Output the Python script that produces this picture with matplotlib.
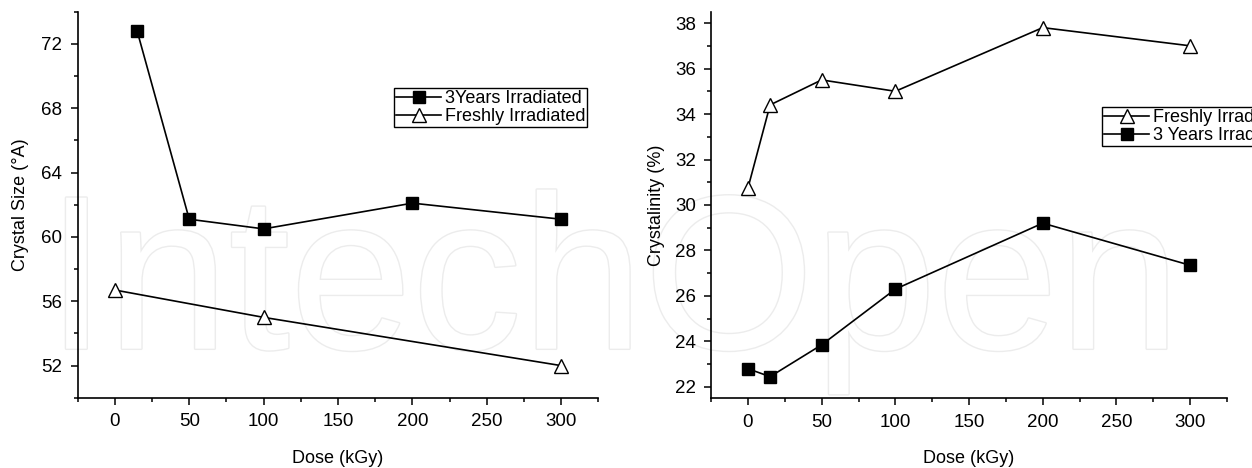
import matplotlib
matplotlib.use("Agg")
import matplotlib.pyplot as plt
import matplotlib.patheffects as pe
from matplotlib.ticker import MultipleLocator

plt.rcParams['font.family'] = ['Liberation Sans', 'DejaVu Sans']

# Crystal size data
dose_3y_size = [15, 50, 100, 200, 300]
size_3y = [72.8, 61.1, 60.5, 62.1, 61.1]
dose_fresh_size = [0, 100, 300]
size_fresh = [56.7, 55.0, 52.0]

# Crystallinity data
dose_cryst = [0, 15, 50, 100, 200, 300]
cryst_fresh = [30.75, 34.4, 35.5, 35.0, 37.8, 37.0]
cryst_3y = [22.8, 22.45, 23.85, 26.3, 29.2, 27.35]

fig = plt.figure(figsize=(12.52, 4.68), dpi=100)

# faint watermark behind the plots
fig.text(0.49, 0.255, "IntechOpen", fontsize=158, color='white', ha='center',
         va='baseline', zorder=-1,
         path_effects=[pe.Stroke(linewidth=2.0, foreground='#ececec'), pe.Normal()])

ax1 = fig.add_axes([0.062, 0.150, 0.416, 0.825])
ax2 = fig.add_axes([0.568, 0.149, 0.412, 0.826])

for ax in (ax1, ax2):
    ax.set_facecolor('none')
    ax.spines['top'].set_visible(False)
    ax.spines['right'].set_visible(False)
    ax.spines['left'].set_linewidth(1.2)
    ax.spines['bottom'].set_linewidth(1.2)
    ax.set_xlim(-25, 325)
    ax.xaxis.set_major_locator(MultipleLocator(50))
    ax.xaxis.set_minor_locator(MultipleLocator(25))
    ax.tick_params(which='major', direction='out', length=5, width=1.1,
                   labelsize=13.5, pad=6)
    ax.tick_params(which='minor', direction='out', length=3, width=1.1)
    ax.set_xlabel("Dose (kGy)", fontsize=13, labelpad=14)

leg_style = dict(loc='upper left', fontsize=13, frameon=True, fancybox=False,
                 edgecolor='black', framealpha=1, handlelength=2.5,
                 handletextpad=0.2, borderpad=0.1, labelspacing=0.05,
                 borderaxespad=0)

# left: crystal size
ax1.plot(dose_3y_size, size_3y, color='black', lw=1.2, marker='s', ms=8,
         mfc='black', mec='black', label='3Years Irradiated')
ax1.plot(dose_fresh_size, size_fresh, color='black', lw=1.2, marker='^', ms=10,
         mfc='white', mec='black', mew=1.0, label='Freshly Irradiated')
ax1.set_ylim(50, 74)
ax1.set_yticks([52, 56, 60, 64, 68, 72])
ax1.yaxis.set_minor_locator(MultipleLocator(2))
ax1.set_ylabel("Crystal Size (°A)", fontsize=13, labelpad=9)
leg1 = ax1.legend(bbox_to_anchor=(0.608, 0.802), **leg_style)
leg1.get_frame().set_linewidth(1.0)

# right: crystallinity
ax2.plot(dose_cryst, cryst_fresh, color='black', lw=1.2, marker='^', ms=10,
         mfc='white', mec='black', mew=1.0, label='Freshly Irradiated')
ax2.plot(dose_cryst, cryst_3y, color='black', lw=1.2, marker='s', ms=8,
         mfc='black', mec='black', label='3 Years Irradiated')
ax2.set_ylim(21.5, 38.5)
ax2.yaxis.set_major_locator(MultipleLocator(2))
ax2.yaxis.set_minor_locator(MultipleLocator(1))
ax2.set_ylabel("Crystalinity (%)", fontsize=13, labelpad=7)
leg2 = ax2.legend(bbox_to_anchor=(0.758, 0.753), **leg_style)
leg2.get_frame().set_linewidth(1.0)

fig.savefig("out.png", dpi=100)
